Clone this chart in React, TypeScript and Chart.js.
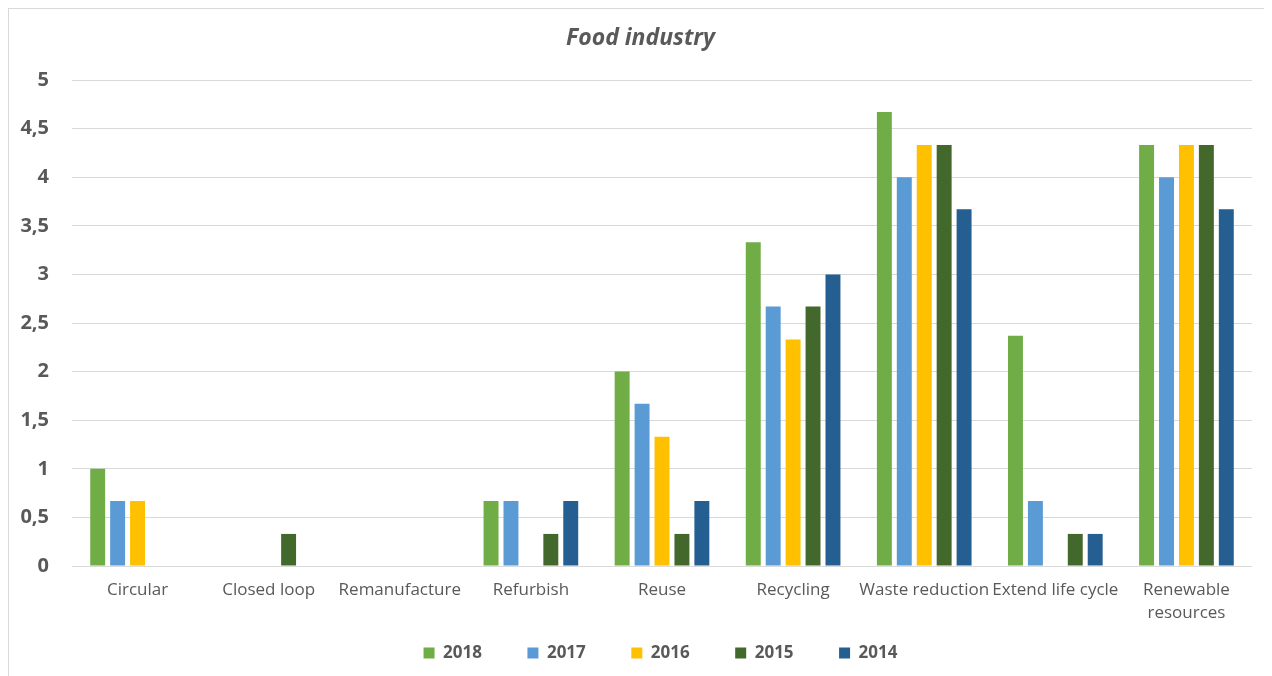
import React, { useEffect, useRef } from "react";
import { Chart, registerables } from "chart.js";

Chart.register(...registerables);

const categories: (string | string[])[] = [
  "Circular",
  "Closed loop",
  "Remanufacture",
  "Refurbish",
  "Reuse",
  "Recycling",
  "Waste reduction",
  "Extend life cycle",
  ["Renewable", "resources"],
];

const years = ["2018", "2017", "2016", "2015", "2014"];
const colors = ["#70AD47", "#5B9BD5", "#FFC000", "#43682B", "#255E91"];

const values2018 = [1, 0, 0, 0.67, 2, 3.33, 4.67, 2.37, 4.33];
const values2017 = [0.67, 0, 0, 0.67, 1.67, 2.67, 4, 0.67, 4];
const values2016 = [0.67, 0, 0, 0, 1.33, 2.33, 4.33, 0, 4.33];
const values2015 = [0, 0.33, 0, 0.33, 0.33, 2.67, 4.33, 0.33, 4.33];
const values2014 = [0, 0, 0, 0.67, 0.67, 3, 3.67, 0.33, 3.67];

const seriesValues = [values2018, values2017, values2016, values2015, values2014];

const FONT = "'Open Sans', 'DejaVu Sans', sans-serif";
const TEXT = "#595959";

const shiftBoxes = {
  id: "shiftBoxes",
  afterLayout(chart: any) {
    if (chart.legend) {
      chart.legend.left += 30;
      chart.legend.right += 30;
    }
    if (chart.titleBlock) {
      chart.titleBlock.left += 10;
      chart.titleBlock.right += 10;
    }
  },
};

export default function App() {
  const canvasRef = useRef<HTMLCanvasElement | null>(null);

  useEffect(() => {
    if (!canvasRef.current) return;
    const chart = new Chart(canvasRef.current, {
      type: "bar",
      data: {
        labels: categories,
        datasets: years.map((y, i) => ({
          label: y,
          data: seriesValues[i],
          backgroundColor: colors[i],
          borderWidth: 0,
          categoryPercentage: 0.76,
          barPercentage: 0.75,
        })),
      },
      plugins: [shiftBoxes],
      options: {
        animation: false,
        responsive: false,
        maintainAspectRatio: false,
        layout: { padding: { top: 0, left: 0, right: 15, bottom: 5.5 } },
        plugins: {
          title: {
            display: true,
            text: "Food industry",
            color: TEXT,
            font: { family: FONT, size: 23, style: "italic", weight: "bold" },
            padding: { top: 16, bottom: 27.4 },
          },
          legend: {
            position: "bottom",
            labels: {
              color: TEXT,
              boxWidth: 11,
              boxHeight: 11,
              padding: 45.5,
              font: { family: FONT, size: 17, weight: "bold" },
            },
          },
          tooltip: { enabled: false },
        },
        scales: {
          x: {
            grid: { display: false },
            border: { display: false },
            ticks: {
              color: TEXT,
              font: { family: FONT, size: 17, lineHeight: 1.35 },
              padding: 5,
              maxRotation: 0,
              autoSkip: false,
            },
            afterFit: (scale: any) => {
              scale.height = 33;
              scale._computeLabelArea = () => undefined;
            },
          },
          y: {
            min: 0,
            max: 5,
            grid: { color: "#d9d9d9", lineWidth: 1, drawTicks: false },
            border: { display: false },
            ticks: {
              stepSize: 0.5,
              color: TEXT,
              padding: 23,
              font: { family: FONT, size: 20, weight: "bold" },
              callback: (v: any) => String(Number(v)).replace(".", ","),
            },
            afterFit: (scale: any) => {
              scale.width = 63;
              scale._computeLabelArea = () => undefined;
            },
          },
        },
      },
    });
    return () => chart.destroy();
  }, []);

  return (
    <div
      style={{
        width: 1260,
        height: 670,
        border: "1px solid #d9d9d9",
        boxSizing: "border-box",
        background: "#fff",
      }}
    >
      <canvas ref={canvasRef} width={1258} height={668} style={{ display: "block" }} />
    </div>
  );
}
